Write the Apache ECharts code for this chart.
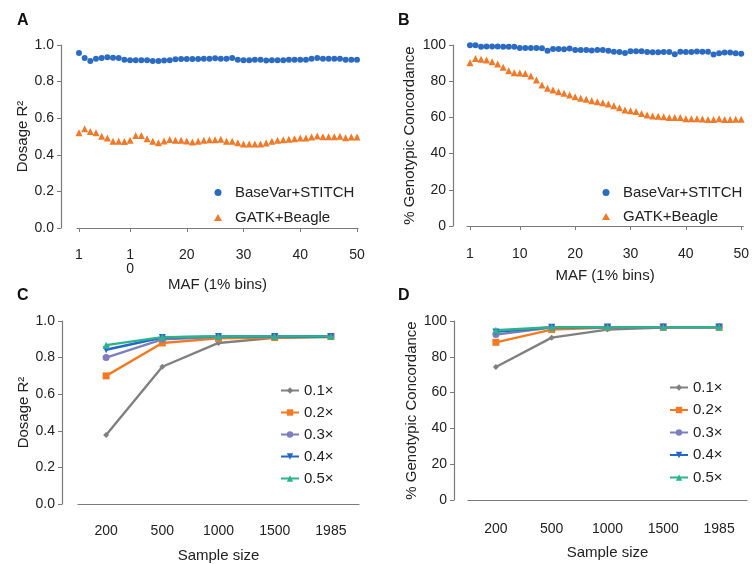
<!DOCTYPE html>
<html>
<head>
<meta charset="utf-8">
<script src="https://cdn.jsdelivr.net/npm/echarts@6/dist/echarts.min.js"></script>
<style>
  html, body { margin: 0; padding: 0; background: #fff; }
  #chart { width: 752px; height: 564px; }
</style>
</head>
<body>
<div id="chart"></div>
<script>
// ---------- data ----------
const mafTicks = [1, 10, 20, 30, 40, 50];
const aBaseVar = [0.956,0.929,0.913,0.925,0.929,0.933,0.931,0.929,0.920,0.916,0.916,0.916,0.916,0.913,0.913,0.915,0.916,0.922,0.924,0.924,0.924,0.924,0.925,0.925,0.927,
                  0.925,0.925,0.929,0.920,0.916,0.916,0.920,0.920,0.915,0.916,0.916,0.916,0.920,0.920,0.920,0.920,0.925,0.929,0.925,0.925,0.925,0.925,0.920,0.920,0.920];
const aGATK = [0.521,0.543,0.528,0.521,0.501,0.492,0.474,0.474,0.472,0.479,0.506,0.506,0.488,0.474,0.466,0.475,0.484,0.479,0.479,0.475,0.470,0.474,0.479,0.482,0.482,
               0.485,0.474,0.474,0.466,0.459,0.459,0.459,0.459,0.464,0.474,0.479,0.482,0.485,0.488,0.492,0.492,0.497,0.503,0.499,0.499,0.499,0.501,0.493,0.497,0.497];
const bBaseVar = [99.8,99.8,99.1,99.2,99.2,99.2,99.1,99.0,99.0,98.4,98.4,98.4,98.4,98.2,96.8,97.8,97.8,97.6,98.0,97.3,97.3,97.2,97.0,97.2,97.2,
                  96.8,96.3,96.1,95.6,96.6,96.6,96.5,96.2,96.0,96.0,96.1,96.1,94.9,96.3,96.1,96.1,96.4,96.3,96.3,94.8,95.4,95.9,95.9,95.4,95.2];
const bGATK = [90.2,92.6,92.1,91.7,90.8,89.5,87.7,85.8,84.7,84.5,84.3,82.9,80.7,77.9,76.1,75.1,74.2,73.3,72.4,71.4,70.6,70.0,69.2,68.7,68.1,
               67.4,66.5,65.4,64.1,63.7,63.2,62.2,61.3,60.8,60.7,60.4,60.0,60.0,59.9,59.3,59.3,59.3,59.1,58.9,58.9,59.3,58.9,58.9,59.0,59.0];

const sampleSizes = ['200', '500', '1000', '1500', '1985'];
const depthNames = ['0.1×', '0.2×', '0.3×', '0.4×', '0.5×'];
const cDosage = [
  [0.377, 0.750, 0.880, 0.908, 0.912],
  [0.700, 0.880, 0.905, 0.910, 0.915],
  [0.800, 0.900, 0.912, 0.915, 0.915],
  [0.843, 0.910, 0.915, 0.915, 0.915],
  [0.868, 0.912, 0.915, 0.916, 0.916]
];
const dConcord = [
  [74.3, 90.7, 95.2, 96.4, 96.5],
  [88.1, 95.2, 96.3, 96.5, 96.5],
  [92.4, 96.3, 96.5, 96.6, 96.6],
  [93.9, 96.5, 96.6, 96.6, 96.6],
  [94.8, 96.5, 96.6, 96.6, 96.6]
];

// ---------- styles ----------
const FONT = 'Arial, "Liberation Sans", sans-serif';
const TXT = '#222';
const AX = '#7a7a7a';
const blue = '#2b6cc2';
const orange = '#ef7a2a';
const lineColors = ['#808080', '#f47a22', '#7d7ec0', '#2368c4', '#2bb48a'];
const lineSymbols = ['diamond', 'rect', 'circle', 'triangle', 'triangle'];
const lineSymbolRot = [0, 0, 0, 180, 0];
const lineSymbolSize = [6, 7, 7, 7, 7];

function pairs(arr) { return arr.map((v, i) => [i + 1, v]); }

function valueX(grid, min, max, offset, formatter) {
  return {
    type: 'value', gridIndex: grid, min: min, max: max, offset: offset,
    name: 'MAF (1% bins)', nameLocation: 'middle', nameGap: 30,
    nameTextStyle: { fontFamily: FONT, fontSize: 15, color: TXT },
    axisLine: { show: true, lineStyle: { color: AX, width: 1.2 } },
    axisTick: { show: true, length: 4, customValues: mafTicks, lineStyle: { color: AX } },
    axisLabel: { customValues: mafTicks, fontFamily: FONT, fontSize: 14, color: TXT, margin: 7,
                 formatter: formatter || (v => String(v)) },
    splitLine: { show: false }
  };
}
function yAx(grid, max, interval, offset, name, gap, dec) {
  return {
    type: 'value', gridIndex: grid, min: 0, max: max, interval: interval, offset: offset,
    name: name, nameLocation: 'middle', nameGap: gap,
    nameTextStyle: { fontFamily: FONT, fontSize: 15, color: TXT },
    axisLine: { show: true, lineStyle: { color: AX, width: 1.2 } },
    axisTick: { show: true, length: 4, lineStyle: { color: AX } },
    axisLabel: { fontFamily: FONT, fontSize: 14, color: TXT, margin: 7,
                 formatter: v => dec ? v.toFixed(1) : String(Math.round(v)) },
    splitLine: { show: false }
  };
}
function catX(grid, offset, gap) {
  return {
    type: 'category', gridIndex: grid, data: sampleSizes, boundaryGap: true, offset: offset,
    name: 'Sample size', nameLocation: 'middle', nameGap: gap,
    nameTextStyle: { fontFamily: FONT, fontSize: 15, color: TXT },
    axisLine: { show: true, lineStyle: { color: AX, width: 1.2 } },
    axisTick: { show: false },
    axisLabel: { fontFamily: FONT, fontSize: 14, color: TXT, margin: 6 },
    splitLine: { show: false }
  };
}

const series = [];
// Panel A
series.push({ name: 'BaseVar+STITCH', type: 'scatter', xAxisIndex: 0, yAxisIndex: 0,
  symbol: 'circle', symbolSize: 6, itemStyle: { color: blue, opacity: 1 }, data: pairs(aBaseVar) });
series.push({ name: 'GATK+Beagle', type: 'scatter', xAxisIndex: 0, yAxisIndex: 0,
  symbol: 'triangle', symbolSize: 7, itemStyle: { color: orange, opacity: 1 }, data: pairs(aGATK) });
// Panel B
series.push({ name: 'BaseVar+STITCH', type: 'scatter', xAxisIndex: 1, yAxisIndex: 1,
  symbol: 'circle', symbolSize: 6, itemStyle: { color: blue, opacity: 1 }, data: pairs(bBaseVar) });
series.push({ name: 'GATK+Beagle', type: 'scatter', xAxisIndex: 1, yAxisIndex: 1,
  symbol: 'triangle', symbolSize: 7, itemStyle: { color: orange, opacity: 1 }, data: pairs(bGATK) });
// Panels C and D
[[2, cDosage], [3, dConcord]].forEach(([g, tbl]) => {
  tbl.forEach((vals, k) => {
    series.push({
      name: depthNames[k], type: 'line', xAxisIndex: g, yAxisIndex: g,
      symbol: lineSymbols[k], symbolRotate: lineSymbolRot[k], symbolSize: lineSymbolSize[k],
      showSymbol: true,
      lineStyle: { color: lineColors[k], width: 2.4 },
      itemStyle: { color: lineColors[k] },
      data: vals
    });
  });
});

const legText = { fontFamily: FONT, fontSize: 15, color: TXT };
const legTextPad = Object.assign({}, legText, { padding: [0, 0, 0, 8] });
const option = {
  backgroundColor: '#fff',
  animation: false,
  grid: [
    { left: 77, top: 45, width: 281, height: 183 },
    { left: 467, top: 45, width: 278, height: 181 },
    { left: 78, top: 321, width: 281, height: 183 },
    { left: 468, top: 321, width: 279, height: 179 }
  ],
  xAxis: [
    valueX(0, 0.65, 50.18, 13, v => v === 10 ? '1\n0' : String(v)),
    Object.assign(valueX(1, 0.46, 50.36, 14), { nameGap: 28 }),
    catX(2, 14, 30),
    catX(3, 16, 29)
  ],
  yAxis: [
    yAx(0, 1, 0.2, 16, 'Dosage R²', 26, true),
    yAx(1, 100, 20, 14, '% Genotypic Concordance', 36, false),
    yAx(2, 1, 0.2, 16, 'Dosage R²', 27, true),
    yAx(3, 100, 20, 14, '% Genotypic Concordance', 33, false)
  ],
  legend: [
    { data: ['BaseVar+STITCH', 'GATK+Beagle'], orient: 'vertical', left: 209, top: 180,
      itemWidth: 8, itemHeight: 7, itemGap: 10, symbolKeepAspect: true,
      textStyle: legTextPad, selectedMode: false },
    { data: ['BaseVar+STITCH', 'GATK+Beagle'], orient: 'vertical', left: 597, top: 180,
      itemWidth: 8, itemHeight: 7, itemGap: 9, symbolKeepAspect: true,
      textStyle: legTextPad, selectedMode: false },
    { data: depthNames, orient: 'vertical', left: 275, top: 378,
      itemWidth: 18, itemHeight: 8, itemGap: 7, textStyle: legText, selectedMode: false },
    { data: depthNames, orient: 'vertical', left: 664, top: 375,
      itemWidth: 18, itemHeight: 8, itemGap: 7.5, textStyle: legText, selectedMode: false }
  ],
  graphic: [
    { type: 'text', left: 17, top: 13, style: { text: 'A', font: 'bold 16px ' + FONT, fill: '#111' } },
    { type: 'text', left: 398, top: 13, style: { text: 'B', font: 'bold 16px ' + FONT, fill: '#111' } },
    { type: 'text', left: 17, top: 288, style: { text: 'C', font: 'bold 16px ' + FONT, fill: '#111' } },
    { type: 'text', left: 398, top: 288, style: { text: 'D', font: 'bold 16px ' + FONT, fill: '#111' } }
  ],
  series: series
};

const chart = echarts.init(document.getElementById('chart'), null, { renderer: 'canvas' });
chart.setOption(option);
</script>
</body>
</html>
